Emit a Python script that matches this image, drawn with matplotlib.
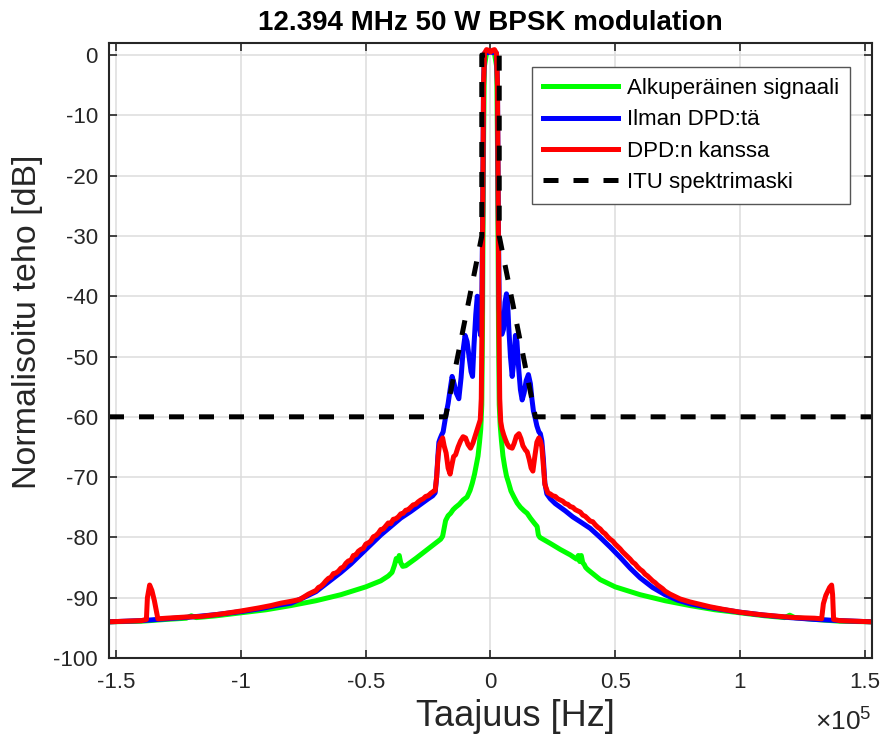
import numpy as np
import matplotlib
matplotlib.use("Agg")
import matplotlib.pyplot as plt

plt.rcParams['font.family'] = ['Liberation Sans', 'DejaVu Sans']
plt.rcParams['mathtext.fontset'] = 'custom'
plt.rcParams['mathtext.rm'] = 'Liberation Sans'
plt.rcParams['mathtext.it'] = 'Liberation Sans:italic'

# ---------------- data (frequency in units of 1e5 Hz, level in dB) ----------------
title = "12.394 MHz 50 W BPSK modulation"
series_names = ["Alkuperäinen signaali", "Ilman DPD:tä", "DPD:n kanssa", "ITU spektrimaski"]

green_f = [-1.53, -1.40, -1.30, -1.22, -1.20, -1.18, -1.10, -1.00, -0.90, -0.80, -0.70, -0.60,
           -0.50, -0.44, -0.41, -0.395, -0.385, -0.378, -0.372, -0.366, -0.360, -0.352, -0.34,
           -0.30, -0.25, -0.20, -0.192, -0.186, -0.180, -0.170, -0.160, -0.150, -0.140, -0.125,
           -0.110, -0.094, -0.082, -0.073, -0.064, -0.057, -0.050, -0.044, -0.039, -0.035,
           -0.032, -0.029, -0.025, -0.015, 0.0,
           0.015, 0.025, 0.029, 0.032, 0.035, 0.039, 0.044, 0.050, 0.057, 0.064, 0.073, 0.082,
           0.094, 0.107, 0.120, 0.135, 0.147, 0.160, 0.175, 0.187, 0.192, 0.198, 0.24, 0.28,
           0.32, 0.345, 0.352, 0.358, 0.364, 0.370, 0.376, 0.382, 0.392, 0.41, 0.44, 0.50, 0.60,
           0.70, 0.80, 0.90, 1.00, 1.10, 1.18, 1.20, 1.22, 1.30, 1.40, 1.53]
green_db = [-94.0, -93.9, -93.6, -93.4, -93.0, -93.3, -93.0, -92.5, -92.0, -91.3, -90.5, -89.5,
            -88.2, -87.2, -86.4, -85.8, -84.6, -83.5, -83.8, -83.0, -84.2, -84.8, -84.7,
            -83.5, -81.9, -80.3, -79.8, -78.5, -77.2, -76.4, -76.0, -75.4, -75.0, -74.5,
            -73.8, -73.3, -72.2, -71.0, -69.5, -68.0, -66.5, -64.2, -62.0, -58.0,
            -45.0, -20.0, -2.0, 0.5, 0.6,
            0.5, -2.0, -20.0, -45.0, -58.0, -61.5, -64.0, -66.5, -68.3, -69.8, -71.0, -72.3,
            -73.3, -74.3, -75.0, -75.6, -76.0, -76.8, -77.6, -78.2, -79.6, -80.0, -81.0, -82.0,
            -82.9, -83.6, -83.0, -84.0, -83.0, -84.2, -84.5, -85.0, -85.4, -86.0, -87.0, -88.2, -89.5,
            -90.5, -91.3, -92.0, -92.5, -93.0, -93.3, -92.9, -93.3, -93.6, -93.9, -94.0]

blue_f = [-1.53, -1.40, -1.30, -1.20, -1.10, -1.00, -0.92, -0.86, -0.80, -0.75, -0.70, -0.65,
          -0.60, -0.56, -0.52, -0.48, -0.44, -0.40, -0.36, -0.32, -0.28, -0.25, -0.232, -0.222,
          -0.216, -0.211, -0.207, -0.202, -0.196, -0.190, -0.184, -0.178, -0.170, -0.162, -0.154,
          -0.146, -0.138, -0.127, -0.118, -0.110, -0.102, -0.094, -0.086, -0.078, -0.072, -0.066,
          -0.059, -0.053, -0.048, -0.043, -0.039, -0.035, -0.031, -0.028, -0.024, 0.0,
          0.024, 0.028, 0.031, 0.035, 0.040, 0.046, 0.052, 0.058, 0.064, 0.068, 0.073, 0.080,
          0.087, 0.094, 0.100, 0.106, 0.113, 0.120, 0.127, 0.135, 0.143, 0.152, 0.160, 0.166,
          0.172, 0.178, 0.186, 0.194, 0.200, 0.206, 0.212, 0.218, 0.226, 0.24, 0.26, 0.28, 0.30,
          0.33, 0.36, 0.40, 0.44, 0.48, 0.52, 0.56, 0.60, 0.65, 0.70, 0.75, 0.80, 0.86, 0.92,
          1.00, 1.10, 1.20, 1.30, 1.40, 1.53]
blue_db = [-94.0, -93.8, -93.5, -93.2, -92.8, -92.3, -91.8, -91.3, -90.9, -90.0, -89.0, -87.4,
           -85.8, -84.4, -82.8, -81.2, -79.6, -78.2, -76.8, -75.7, -74.5, -73.6, -73.1, -72.6,
           -70.0, -66.5, -64.2, -63.6, -63.0, -62.5, -61.0, -59.5, -57.8, -55.5, -53.3,
           -54.5, -56.0, -57.0, -53.5, -49.0, -46.5, -47.5, -50.0, -52.5, -53.3, -48.0,
           -43.0, -40.0, -41.5, -45.5, -46.5, -42.0, -25.0, -5.0, 0.3, 0.5,
           0.3, -5.0, -25.0, -42.0, -46.0, -46.3, -45.5, -41.0, -39.6, -40.5, -45.0, -50.0,
           -53.3, -50.5, -46.5, -47.5, -52.0, -55.5, -57.2, -56.0, -54.0, -53.0, -54.5, -57.0,
           -59.0, -60.0, -61.5, -62.5, -62.8, -64.0, -67.0, -71.0, -72.8, -73.6, -74.4, -75.0, -75.6,
           -76.6, -77.4, -78.5, -80.0, -81.6, -83.3, -85.1, -86.7, -88.3, -89.5, -90.4, -91.0, -91.5, -91.9,
           -92.4, -92.9, -93.3, -93.6, -93.8, -94.0]

red_f_left = [-1.53, -1.46, -1.40, -1.380, -1.376, -1.367, -1.358, -1.348, -1.340, -1.334, -1.30,
              -1.22, -1.16, -1.08, -1.00, -0.93, -0.88, -0.84, -0.80, -0.765, -0.73,
              -0.70, -0.69, -0.68, -0.67, -0.66, -0.65, -0.64, -0.63, -0.62, -0.61, -0.60, -0.59,
              -0.58, -0.57, -0.56, -0.55, -0.54, -0.53, -0.52, -0.51, -0.50, -0.49, -0.48, -0.47,
              -0.46, -0.45, -0.44, -0.43, -0.42, -0.41, -0.40, -0.39, -0.38, -0.37, -0.36, -0.35,
              -0.34, -0.33, -0.32, -0.31, -0.30, -0.29, -0.28, -0.27, -0.26, -0.25, -0.24, -0.23,
              -0.222, -0.216, -0.210, -0.204, -0.198, -0.192, -0.186, -0.178, -0.170, -0.162,
              -0.155, -0.148, -0.140, -0.130, -0.120, -0.110, -0.100, -0.090, -0.080, -0.070,
              -0.060, -0.052, -0.046, -0.041, -0.037, -0.034, -0.031, -0.028, -0.024, -0.016,
              -0.008, 0.0]
red_db_left = [-94.0, -93.9, -93.8, -93.6, -90.0, -87.9, -88.8, -90.5, -92.2, -93.5, -93.4,
               -93.2, -93.1, -92.7, -92.2, -91.7, -91.3, -90.9, -90.6, -90.3, -89.4,
               -88.8, -88.3, -88.1, -87.7, -87.2, -86.8, -86.6, -86.0, -85.9, -85.6, -85.1, -84.9,
               -84.3, -83.9, -83.8, -83.0, -82.9, -82.3, -82.0, -81.8, -81.1, -80.9, -80.6, -79.9,
               -79.7, -79.3, -78.7, -78.6, -78.1, -77.6, -77.7, -77.0, -76.9, -76.6, -76.1, -76.0,
               -75.5, -75.4, -75.0, -74.6, -74.5, -74.1, -73.8, -73.6, -73.2, -73.1, -72.7, -72.4,
               -72.2, -70.0, -66.5, -64.5, -64.0, -63.5, -64.8, -66.0, -68.5, -69.5,
               -68.0, -66.6, -66.3, -65.0, -64.0, -63.3, -63.5, -64.6, -65.2, -64.3,
               -63.0, -62.0, -61.2, -60.5, -57.0, -45.0, -25.0, -5.0, 0.3, 0.9,
               0.8, 0.5]
red_f_right = [0.008, 0.016, 0.024, 0.028, 0.031, 0.034, 0.037, 0.041, 0.046, 0.053, 0.060, 0.067,
               0.075, 0.087, 0.095, 0.104, 0.114, 0.122, 0.130, 0.140, 0.147, 0.155, 0.163, 0.170,
               0.178, 0.186, 0.194, 0.200, 0.206, 0.212, 0.218,
               0.23, 0.24, 0.25, 0.26, 0.27, 0.28, 0.29, 0.30, 0.31, 0.32, 0.33, 0.34, 0.35, 0.36,
               0.37, 0.38, 0.39, 0.40, 0.41, 0.42, 0.43, 0.44, 0.45, 0.46, 0.47, 0.48, 0.49, 0.50,
               0.51, 0.52, 0.53, 0.54, 0.55, 0.56, 0.57, 0.58, 0.59, 0.60, 0.61, 0.62, 0.63, 0.64,
               0.65, 0.66, 0.67, 0.68, 0.69, 0.70,
               0.72, 0.76, 0.80, 0.84, 0.88, 0.93, 1.00, 1.08, 1.16, 1.22, 1.30, 1.328,
               1.335, 1.345, 1.360, 1.368, 1.372, 1.376, 1.40, 1.46, 1.53]
red_db_right = [0.8, 0.9, 0.3, -5.0, -25.0, -45.0, -57.0, -60.8, -62.0, -63.0, -63.8, -64.5,
                -65.0, -65.2, -64.4, -63.2, -62.8, -63.6, -64.8, -65.5, -65.8, -67.0, -68.5, -69.0,
                -66.5, -64.2, -63.5, -64.0, -65.0, -68.0, -71.2,
                -72.6, -72.8, -73.1, -73.2, -73.6, -73.8, -74.0, -74.4, -74.5, -74.9, -75.0, -75.4, -75.6, -75.8,
                -76.3, -76.5, -76.9, -77.3, -77.4, -77.9, -78.3, -78.6, -79.1, -79.4, -79.9, -80.3, -80.6, -81.1,
                -81.5, -81.9, -82.4, -82.8, -83.2, -83.6, -84.1, -84.4, -84.9, -85.3, -85.6, -86.1, -86.4, -86.8,
                -87.2, -87.5, -87.9, -88.2, -88.5, -88.9,
                -89.4, -90.2, -90.7, -91.1, -91.5, -91.9, -92.4, -92.8, -93.1, -93.3, -93.4, -93.5,
                -91.0, -89.6, -88.3, -87.9, -89.5, -93.6, -93.8, -93.9, -94.0]

mask_f = [-1.53, -0.18, -0.035, -0.035, 0.035, 0.035, 0.18, 1.53]
mask_db = [-60, -60, -30, 0, 0, -30, -60, -60]

x_ticks = [-1.5, -1.0, -0.5, 0.0, 0.5, 1.0, 1.5]
x_tick_labels = ["-1.5", "-1", "-0.5", "0", "0.5", "1", "1.5"]
y_ticks = [-100, -90, -80, -70, -60, -50, -40, -30, -20, -10, 0]
y_tick_labels = ["-100", "-90", "-80", "-70", "-60", "-50", "-40", "-30", "-20", "-10", "0"]
x_scale = 1e5

red_f = red_f_left + red_f_right
red_db = red_db_left + red_db_right

# ---------------- figure ----------------
fig = plt.figure(figsize=(8.81, 7.38), dpi=100)
ax = fig.add_axes([109/881, 80/738, 763/881, 615/738])

lw = 3.6
ax.plot(np.array(green_f) * x_scale, green_db, color=(0, 1, 0), lw=lw, label=series_names[0], solid_joinstyle='round')
ax.plot(np.array(blue_f) * x_scale, blue_db, color=(0, 0, 1), lw=lw, label=series_names[1], solid_joinstyle='round')
ax.plot(np.array(red_f) * x_scale, red_db, color=(1, 0, 0), lw=lw, label=series_names[2], solid_joinstyle='round')
ax.plot(np.array(mask_f) * x_scale, mask_db, color='black', lw=lw, linestyle=(0, (3, 3)), label=series_names[3])

ax.set_xlim(-1.53 * x_scale, 1.53 * x_scale)
ax.set_ylim(-100, 2)
ax.set_xticks(np.array(x_ticks) * x_scale)
ax.set_xticklabels(x_tick_labels)
ax.set_yticks(y_ticks)
ax.set_yticklabels(y_tick_labels)

ax.grid(True, color='#dcdcdc', lw=1.1)
ax.set_axisbelow(True)
for s in ax.spines.values():
    s.set_color('#262626')
    s.set_linewidth(1.5)
ax.tick_params(direction='in', top=True, right=True, length=6, width=1.2, color='#262626',
               labelsize=16, labelcolor='#262626')
ax.tick_params(axis='x', pad=10)
ax.tick_params(axis='y', pad=8)

ax.set_title(title, fontsize=20, fontweight='bold', pad=9)
ax.set_xlabel("Taajuus [Hz]", fontsize=26, color='#262626')
ax.set_ylabel("Normalisoitu teho [dB]", fontsize=24.5, color='#262626')
ax.xaxis.set_label_coords(0.533, -0.066)
ax.yaxis.set_label_coords(-0.086, 0.546)

fig.text(872/881, 2/738, r'$\times10^{5}$', ha='right', va='bottom',
         fontsize=19, color='#262626')

leg = ax.legend(loc='upper right', bbox_to_anchor=(0.971, 0.961), borderaxespad=0,
                fontsize=16, fancybox=False, framealpha=1, edgecolor='#555555',
                handlelength=3.35, handletextpad=0.4, labelspacing=0.46, borderpad=0.5)
leg.get_frame().set_linewidth(1.0)

fig.savefig("out.png", dpi=100)
